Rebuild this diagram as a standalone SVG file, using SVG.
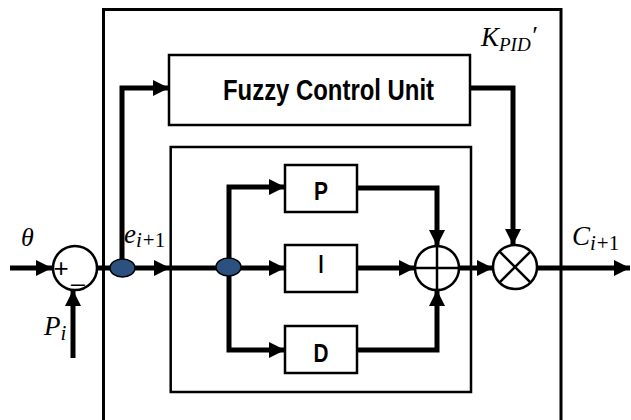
<svg xmlns="http://www.w3.org/2000/svg" width="631" height="420" viewBox="0 0 631 420">
<defs>
<marker id="arr" markerUnits="userSpaceOnUse" markerWidth="16" markerHeight="16" viewBox="0 0 16 16" refX="16" refY="8" orient="auto">
<path d="M0,0 L16,8 L0,16 Z" fill="#000"/>
</marker>
</defs>
<style>
.box{fill:#fff;stroke:#000;stroke-width:2.5}
.outer{fill:#fff;stroke:#000;stroke-width:3}
.wire{fill:none;stroke:#000;stroke-width:5;stroke-linejoin:miter}
.arrow{marker-end:url(#arr)}
.circ{fill:#fff;stroke:#000;stroke-width:2.5}
.thin{stroke:#000;stroke-width:2.5}
.junc{fill:#2c5080;stroke:#000;stroke-width:1.5}
.lbl{font-family:"Liberation Sans","DejaVu Sans Condensed",sans-serif;font-weight:bold;fill:#000;text-anchor:middle}
.math{font-family:"Liberation Serif",serif;font-style:italic;fill:#000}
.sign{font-family:"Liberation Sans",sans-serif;fill:#000;text-anchor:middle}
</style>
<rect width="631" height="420" fill="#fff"/>
<g id="outer"><rect class="outer" x="103.5" y="9.5" width="457.5" height="415"/></g>
<g id="fuzzy"><rect class="box" x="169" y="55" width="301" height="70"/>
<text class="lbl" x="328.5" y="100" font-size="29" textLength="211" lengthAdjust="spacingAndGlyphs">Fuzzy Control Unit</text></g>
<g id="pid"><rect class="box" x="170.7" y="147" width="300.3" height="245"/></g>
<g id="P"><rect class="box" x="285" y="165" width="72" height="47"/>
<text class="lbl" x="321" y="200" font-size="25" textLength="14" lengthAdjust="spacingAndGlyphs">P</text></g>
<g id="I"><rect class="box" x="285" y="245" width="72" height="47"/>
<text class="lbl" x="321" y="273" font-size="25" textLength="5" lengthAdjust="spacingAndGlyphs">I</text></g>
<g id="D"><rect class="box" x="285" y="326" width="72" height="47"/>
<text class="lbl" x="321" y="362" font-size="25" textLength="15" lengthAdjust="spacingAndGlyphs">D</text></g>
<g id="connectors">
<line class="wire arrow" x1="10" y1="268" x2="52" y2="268"/>
<line class="wire arrow" x1="73" y1="358" x2="73" y2="290"/>
<line class="wire arrow" x1="97" y1="268" x2="170" y2="268"/>
<polyline class="wire arrow" points="122,268 122,88 169,88"/>
<line class="wire" x1="170" y1="268" x2="229" y2="268"/>
<line class="wire arrow" x1="229" y1="268" x2="285" y2="268"/>
<polyline class="wire arrow" points="229,268 229,187 285,187"/>
<polyline class="wire arrow" points="229,268 229,350 285,350"/>
<polyline class="wire arrow" points="357,188 437,188 437,246"/>
<polyline class="wire arrow" points="357,350 437,350 437,290"/>
<line class="wire arrow" x1="357" y1="268" x2="415" y2="268"/>
<line class="wire arrow" x1="459" y1="268" x2="493" y2="268"/>
<polyline class="wire arrow" points="470,88 513,88 513,245"/>
<line class="wire arrow" x1="537" y1="268" x2="630" y2="268"/>
</g>
<g id="subtract"><circle class="circ" cx="75" cy="268" r="22"/>
<text class="sign" x="61" y="277" font-size="26">+</text>
<text class="sign" x="78" y="281" font-size="24">_</text></g>
<g id="sum"><circle class="circ" cx="437" cy="268" r="22"/>
<line class="thin" x1="415" y1="268" x2="459" y2="268"/>
<line class="thin" x1="437" y1="246" x2="437" y2="290"/></g>
<g id="mult"><circle class="circ" cx="515" cy="267" r="22"/>
<line class="thin" x1="499.4" y1="251.4" x2="530.6" y2="282.6"/>
<line class="thin" x1="530.6" y1="251.4" x2="499.4" y2="282.6"/></g>
<g id="junction1"><ellipse class="junc" cx="122.5" cy="268" rx="12.5" ry="9"/></g>
<g id="junction2"><ellipse class="junc" cx="228.5" cy="267" rx="12.5" ry="9"/></g>
<g id="labels">
<text class="math" x="21" y="246" font-size="26">θ</text>
<text class="math" x="124" y="243" font-size="27">e<tspan font-size="21" dy="4">i</tspan><tspan font-size="21" font-style="normal" dx="1">+1</tspan></text>
<text class="math" x="481" y="46" font-size="27">K<tspan font-size="19" dy="5">PID</tspan><tspan font-size="26" dy="-7">′</tspan></text>
<text class="math" x="572" y="245" font-size="27">C<tspan font-size="21" dy="5">i</tspan><tspan font-size="21" font-style="normal" dx="1">+1</tspan></text>
<text class="math" x="44" y="335" font-size="27">P<tspan font-size="21" dy="5">i</tspan></text>
</g>
</svg>
